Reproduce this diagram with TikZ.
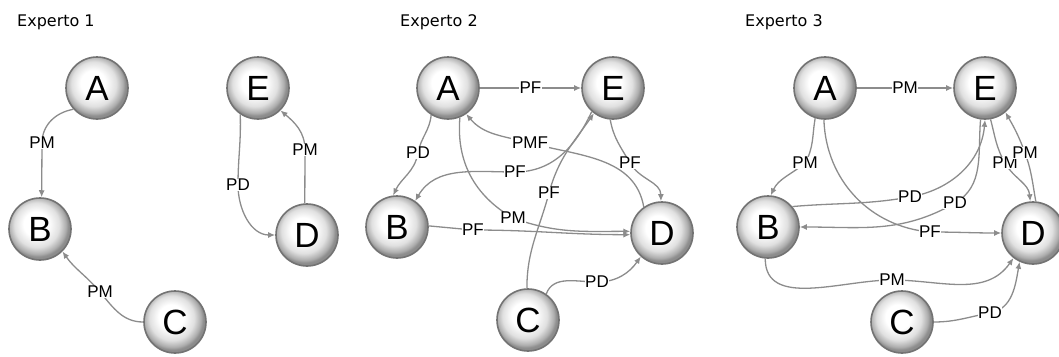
\documentclass[tikz,border=0pt]{standalone}
\usepackage{fontspec}
\setmainfont{Liberation Sans}
\newfontfamily\titlefont{DejaVu Sans}
\usetikzlibrary{arrows.meta}
\pgfdeclareradialshading{nodeshade}{\pgfpoint{-4bp}{5bp}}{color(0bp)=(white);color(10bp)=(white);color(18bp)=(black!12);color(23bp)=(black!32);color(25bp)=(black!45);color(50bp)=(black!45)}
\tikzset{
  vtx/.style={circle, minimum size=62pt, inner sep=0pt, draw=black!55, line width=1.6pt,
    shading=nodeshade, font=\fontsize{35}{35}\selectfont},
  edge/.style={draw=black!45, line width=1.3pt, -{Latex[length=7pt,width=6pt]}},
  lbl/.style={fill=white, inner sep=0.6pt, text=black, font=\fontsize{17}{17}\selectfont},
  ttl/.style={anchor=west, inner sep=0pt, font=\titlefont\fontsize{16}{16}\selectfont}
}
\begin{document}
\begin{tikzpicture}[x=1pt,y=-1pt]
\useasboundingbox (0,0) rectangle (1059,356);
% titles
\node[ttl] (t1) at (17,22) {Experto 1};
\node[ttl] (t2) at (400,22) {Experto 2};
\node[ttl] (t3) at (745,22) {Experto 3};
% ---------- Panel 1
\node[vtx] (A1) at (97,88) {A};
\node[vtx] (B1) at (40,229) {B};
\node[vtx] (C1) at (175,322) {C};
\node[vtx] (E1) at (258,88) {E};
\node[vtx] (D1) at (307,235) {D};
\draw[edge] (A1.222) to[out=190,in=90] (42,143) node[lbl]{PM} -- (B1.87);
\draw[edge] (C1.180) to[out=180,in=-50] (100,292) node[lbl]{PM} to[out=130,in=-55] (B1.-45);
\draw[edge] (E1.236) to[out=-88,in=90] (238,185) node[lbl]{PD} to[out=-90,in=180] (D1.180);
\draw[edge] (D1.94) -- (305,150) node[lbl]{PM} to[out=90,in=-40] (E1.-45);
% ---------- Panel 2
\node[vtx] (A2) at (448,88) {A};
\node[vtx] (E2) at (613,88) {E};
\node[vtx] (B2) at (397,227) {B};
\node[vtx] (D2) at (662,233) {D};
\node[vtx] (C2) at (528,320) {C};
\draw[edge] (A2.0) -- node[lbl]{PF} (E2.180);
\draw[edge] (A2.238) to[out=-95,in=80] (418,153) node[lbl]{PD} to[out=-100,in=65] (B2.97);
\draw[edge] (E2.228) to[out=-115,in=0] (515,172) node[lbl]{PF} to[out=180,in=60] (B2.55);
\draw[edge] (E2.265) to[out=-80,in=120] (630,163) node[lbl]{PF} to[out=-60,in=90] (D2.92);
\draw[edge] (D2.125) to[out=100,in=-15] (530,143) node[lbl]{PMF} to[out=165,in=-50] (A2.-55);
\draw[edge] (A2.-68) to[out=-95,in=150] (513,218) node[lbl]{PM} to[out=-20,in=180] (D2.177);
\draw[edge] (B2.2) -- (473,230) node[lbl]{PF} to[out=0,in=180] (D2.183);
\draw[edge] (C2.92) to[out=90,in=-105] (549,193) node[lbl]{PF} to[out=75,in=235] (E2.233);
\draw[edge] (C2.55) to[out=70,in=180] (597,282) node[lbl]{PD} to[out=0,in=235] (D2.228);
% ---------- Panel 3
\node[vtx] (A3) at (825,88) {A};
\node[vtx] (E3) at (985,88) {E};
\node[vtx] (B3) at (768,227) {B};
\node[vtx] (D3) at (1033,233) {D};
\node[vtx] (C3) at (902,322) {C};
\draw[edge] (A3.0) -- node[lbl]{PM} (E3.180);
\draw[edge] (A3.252) to[out=-100,in=60] (805,163) node[lbl]{PM} to[out=-140,in=65] (B3.85);
\draw[edge] (A3.268) to[out=-88,in=175] (930,232) node[lbl]{PF} to[out=0,in=180] (D3.180);
\draw[edge] (B3.40) to[out=5,in=190] (910,197) node[lbl]{PD} to[out=10,in=-95] (E3.270);
\draw[edge] (E3.262) to[out=-95,in=30] (955,203) node[lbl]{PD} to[out=210,in=0] (B3.0);
\draw[edge] (E3.280) to[out=-75,in=120] (1005,163) node[lbl]{PM} to[out=-60,in=95] (D3.95);
\draw[edge] (D3.85) to[out=100,in=-70] (1025,153) node[lbl]{PM} to[out=110,in=-60] (E3.-50);
\draw[edge] (B3.265) to[out=-90,in=180] (892,280) node[lbl]{PM} to[out=0,in=235] (D3.232);
\draw[edge] (C3.0) to[out=0,in=190] (990,313) node[lbl]{PD} to[out=10,in=-100] (D3.245);
\end{tikzpicture}
\end{document}
